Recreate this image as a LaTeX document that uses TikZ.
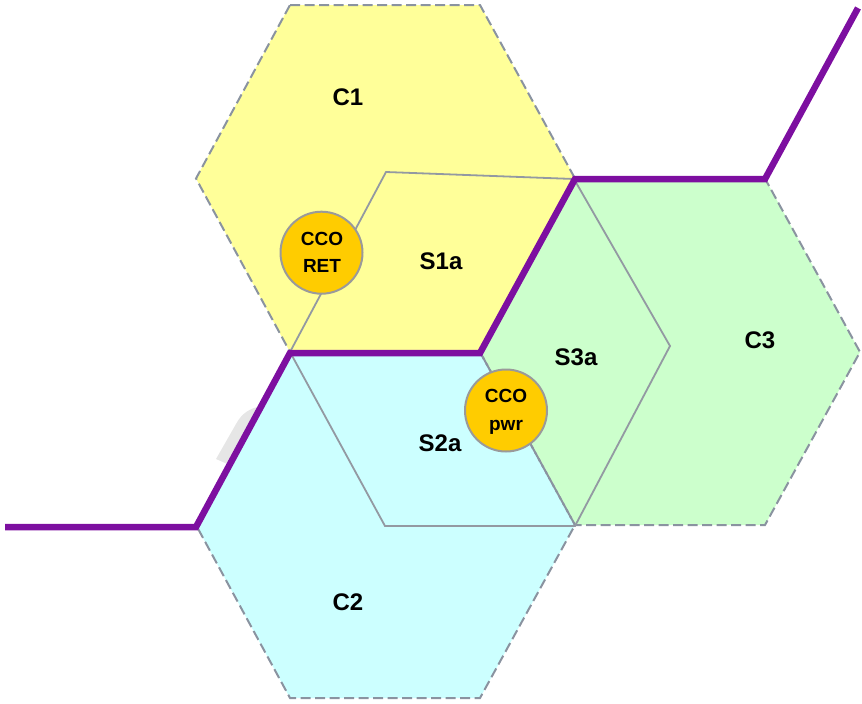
\documentclass[tikz,border=0pt]{standalone}
\usepackage{fontspec}
\setmainfont{Liberation Sans}
\definecolor{cyel}{HTML}{FFFF99}
\definecolor{ccyan}{HTML}{CCFFFF}
\definecolor{cgreen}{HTML}{CCFFCC}
\definecolor{cgold}{HTML}{FFCC00}
\definecolor{cpurple}{RGB}{125,15,160}
\definecolor{cborder}{HTML}{8A93A0}
\definecolor{cline}{HTML}{9399A2}
\definecolor{cring}{HTML}{9A9A9A}
\definecolor{cshade}{HTML}{E6E6E6}
\tikzset{
  hexfill/.style={draw=none},
  hexedge/.style={draw=cborder, line width=2pt, dash pattern=on 10pt off 4.5pt},
  sline/.style={draw=cline, line width=1.8pt, line join=miter},
  border/.style={draw=cpurple, line width=6.5pt, line join=miter},
  cco/.style={circle, minimum size=82pt, inner sep=0pt, fill=cgold, draw=cring, line width=2pt},
  lbl/.style={anchor=base, inner sep=0pt, font=\fontsize{24}{28}\selectfont\bfseries},
  ccotxt/.style={anchor=base, inner sep=0pt, font=\fontsize{19}{22}\selectfont\bfseries}
}
\begin{document}
\begin{tikzpicture}[x=1pt,y=-1pt]
\useasboundingbox (0,0) rectangle (862,704);
% shade artefact
\fill[cshade] (216,459) -- (236,424) .. controls (242,413) and (250,408) .. (262,406) -- (262,475) -- (232,466) -- cycle;
% hexagon fills
\fill[cyel] (290,5) -- (480,5) -- (575,178.5) -- (480,352) -- (290,352) -- (196,178.5) -- cycle;
\fill[ccyan] (290,352) -- (480,352) -- (575,525) -- (480,698) -- (290,698) -- (196,525) -- cycle;
\fill[cgreen] (575,178.5) -- (765,178.5) -- (860,352) -- (765,525) -- (575,525) -- (480,352) -- cycle;
% hexagon dashed outlines
\draw[hexedge] (290,5) -- (480,5) -- (575,178.5) -- (480,352) -- (290,352) -- (196,178.5) -- cycle;
\draw[hexedge] (290,352) -- (480,352) -- (575,525) -- (480,698) -- (290,698) -- (196,525) -- cycle;
\draw[hexedge] (575,178.5) -- (765,178.5) -- (860,352) -- (765,525) -- (575,525) -- (480,352) -- cycle;
% sector hexagon
\draw[sline] (386,172) -- (574,179) -- (670,346) -- (575,526) -- (385,526) -- (290,352) -- cycle;
% purple boundary
\coordinate (pa) at (5,527);
\coordinate (pb) at (196,527);
\coordinate (pc) at (290,353);
\coordinate (pd) at (480,353);
\coordinate (pe) at (575,179);
\coordinate (pf) at (765,179);
\coordinate (pg) at (858,8);
\draw[border] (pa) -- (pb) -- (pc) -- (pd) -- (pe) -- (pf) -- (pg);
% CCO circles
\node[cco] (ret) at (321.5,252.7) {};
\node[cco] (pwr) at (506,410.5) {};
\node[ccotxt] (ret1) at (322,245) {CCO};
\node[ccotxt] (ret2) at (322,272.7) {RET};
\node[ccotxt] (pwr1) at (506,402.3) {CCO};
\node[ccotxt] (pwr2) at (506,430) {pwr};
% labels
\node[lbl] (c1) at (348,105) {C1};
\node[lbl] (c2) at (348,610) {C2};
\node[lbl] (c3) at (760,348) {C3};
\node[lbl] (s1a) at (441,269) {S1a};
\node[lbl] (s3a) at (576,365) {S3a};
\node[lbl] (s2a) at (440,451) {S2a};
\end{tikzpicture}
\end{document}
